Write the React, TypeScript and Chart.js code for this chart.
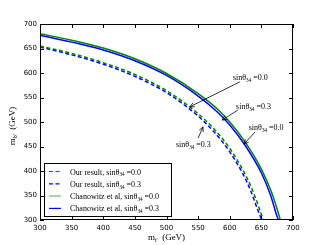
import React, { useEffect, useRef } from "react";
import { Chart, registerables } from "chart.js";

Chart.register(...registerables);

// Data
const gsX = [300, 350, 400, 450, 500, 550, 580, 600, 625, 650, 665, 675, 680];
const gsY = [680, 667, 651, 629, 599, 558, 527, 500, 458, 404, 360, 322, 300];
const bsX = [300, 350, 400, 450, 500, 550, 580, 600, 625, 650, 665, 674, 677];
const bsY = [677, 663, 647, 625, 595, 553, 521, 494, 451, 396, 349, 310, 300];
const gdX = [300, 350, 400, 450, 500, 550, 575, 600, 620, 635, 645, 653];
const gdY = [655, 640, 621, 597, 564, 517, 486, 446, 404, 364, 330, 300];
const bdX = [300, 350, 400, 450, 500, 550, 575, 600, 620, 633, 643, 650.5];
const bdY = [653, 637, 618, 593, 560, 512, 480, 439, 396, 360, 325, 300];

const xTicks = [300, 350, 400, 450, 500, 550, 600, 650, 700];
const yTicks = [300, 350, 400, 450, 500, 550, 600, 650, 700];

const legendLabels = ["Our result, sin\u03b8", "Our result, sin\u03b8", "Chanowitz et al, sin\u03b8", "Chanowitz et al, sin\u03b8"];
const legendValues = ["=0.0", "=0.3", "=0.0", "=0.3"];

// annotations: text anchor (data), arrow start (data), arrow head (data)
const annValues = ["=0.0", "=0.3", "=0.0", "=0.3"];
const annText = [[605, 586], [610, 527], [630, 484], [515, 449]];
const annFrom = [[616, 582], [613, 524.5], [640, 479.6], [550, 467]];
const annTo = [[537, 531], [588, 504], [622.5, 455], [557.7, 490]];

const GREEN = "#008000";
const BLUE = "#0000ff";
const SERIF2 = "'Liberation Serif', 'DejaVu Serif', serif";

function pts(xs: number[], ys: number[]) {
  return xs.map((x, i) => ({ x, y: ys[i] }));
}

function drawSin(ctx: CanvasRenderingContext2D, prefix: string, value: string, x: number, y: number, size: number) {
  ctx.textAlign = "left";
  ctx.textBaseline = "alphabetic";
  ctx.fillStyle = "#000";
  ctx.font = `${size}px ${SERIF2}`;
  ctx.fillText(prefix, x, y);
  let cx = x + ctx.measureText(prefix).width;
  ctx.font = `${size * 0.65}px ${SERIF2}`;
  ctx.fillText("34", cx, y + size * 0.22);
  cx += ctx.measureText("34").width + size * 0.25;
  ctx.font = `${size}px ${SERIF2}`;
  ctx.fillText(value, cx, y);
}

const overlay = {
  id: "overlay",
  afterDraw(chart: any) {
    const ctx: CanvasRenderingContext2D = chart.ctx;
    const { left, right, top, bottom } = chart.chartArea;
    const xs = chart.scales.x;
    const ys = chart.scales.y;
    ctx.save();
    // frame
    ctx.strokeStyle = "#000";
    ctx.lineWidth = 1;
    ctx.strokeRect(left + 0.5, top + 0.5, right - left - 1, bottom - top - 1);
    // ticks inside
    ctx.beginPath();
    xTicks.forEach((v) => {
      const p = Math.round(xs.getPixelForValue(v)) + 0.5;
      ctx.moveTo(p, bottom);
      ctx.lineTo(p, bottom - 4);
      ctx.moveTo(p, top);
      ctx.lineTo(p, top + 4);
    });
    yTicks.forEach((v) => {
      const p = Math.round(ys.getPixelForValue(v)) + 0.5;
      ctx.moveTo(left, p);
      ctx.lineTo(left + 4, p);
      ctx.moveTo(right, p);
      ctx.lineTo(right - 4, p);
    });
    ctx.stroke();

    // annotations
    for (let i = 0; i < annText.length; i++) {
      const tx = xs.getPixelForValue(annText[i][0]);
      const ty = ys.getPixelForValue(annText[i][1]);
      drawSin(ctx, "sin\u03b8", annValues[i], tx, ty, 8);
      const fx = xs.getPixelForValue(annFrom[i][0]);
      const fy = ys.getPixelForValue(annFrom[i][1]);
      const hx = xs.getPixelForValue(annTo[i][0]);
      const hy = ys.getPixelForValue(annTo[i][1]);
      ctx.strokeStyle = "#000";
      ctx.lineWidth = 0.8;
      ctx.beginPath();
      ctx.moveTo(fx, fy);
      ctx.lineTo(hx, hy);
      const ang = Math.atan2(hy - fy, hx - fx);
      const L = 5;
      ctx.moveTo(hx, hy);
      ctx.lineTo(hx - L * Math.cos(ang - 0.45), hy - L * Math.sin(ang - 0.45));
      ctx.moveTo(hx, hy);
      ctx.lineTo(hx - L * Math.cos(ang + 0.45), hy - L * Math.sin(ang + 0.45));
      ctx.stroke();
    }

    // legend
    const lx = left + 4;
    const ly = 163;
    const lw = 128;
    const lh = 54;
    ctx.fillStyle = "#fff";
    ctx.fillRect(lx, ly, lw, lh);
    ctx.strokeStyle = "#000";
    ctx.lineWidth = 1;
    ctx.strokeRect(lx + 0.5, ly + 0.5, lw - 1, lh - 1);
    const styles = [
      { c: GREEN, d: [4, 2.5], w: 1.2 },
      { c: BLUE, d: [4, 2.5], w: 1.2 },
      { c: "rgba(0,128,0,0.35)", d: [], w: 2 },
      { c: BLUE, d: [], w: 1.2 },
    ];
    for (let i = 0; i < 4; i++) {
      const cy = 171.5 + i * 12.3;
      ctx.strokeStyle = styles[i].c;
      ctx.lineWidth = styles[i].w;
      ctx.setLineDash(styles[i].d);
      ctx.beginPath();
      ctx.moveTo(49, cy);
      ctx.lineTo(61, cy);
      ctx.stroke();
      ctx.setLineDash([]);
      drawSin(ctx, legendLabels[i], legendValues[i], 70, cy + 3, 8);
    }

    // axis titles
    ctx.fillStyle = "#000";
    ctx.textBaseline = "alphabetic";
    const drawTitle = (sub: string, cx: number, cy: number) => {
      ctx.font = `9px ${SERIF2}`;
      const wm = ctx.measureText("m").width;
      ctx.font = `6px ${SERIF2}`;
      const ws = ctx.measureText(sub).width;
      ctx.font = `9px ${SERIF2}`;
      const wr = ctx.measureText("  (GeV)").width;
      const tot = wm + ws + wr;
      let x0 = cx - tot / 2;
      ctx.textAlign = "left";
      ctx.fillText("m", x0, cy);
      x0 += wm;
      ctx.font = `6px ${SERIF2}`;
      ctx.fillText(sub, x0, cy + 2);
      x0 += ws;
      ctx.font = `9px ${SERIF2}`;
      ctx.fillText("  (GeV)", x0, cy);
    };
    drawTitle("t'", (left + right) / 2, 240);
    ctx.save();
    ctx.translate(15, (top + bottom) / 2 + 4);
    ctx.rotate(-Math.PI / 2);
    drawTitle("b'", 0, 0);
    ctx.restore();
    ctx.restore();
  },
};

export default function App() {
  const ref = useRef<HTMLCanvasElement | null>(null);
  useEffect(() => {
    document.body.style.margin = "0";
    if (!ref.current) return;
    const tickFont = { family: "'DejaVu Sans', sans-serif", size: 7 };
    const chart = new Chart(ref.current, {
      type: "scatter",
      data: {
        datasets: [
          { data: pts(gdX, gdY), borderColor: GREEN, borderDash: [4, 2.5], borderWidth: 1.5 },
          { data: pts(bdX, bdY), borderColor: BLUE, borderDash: [4, 2.5], borderWidth: 1.5 },
          { data: pts(gsX, gsY), borderColor: GREEN, borderWidth: 1.5 },
          { data: pts(bsX, bsY), borderColor: BLUE, borderWidth: 1.5 },
        ].map((d) => ({ ...d, showLine: true, pointRadius: 0, fill: false, cubicInterpolationMode: "monotone" as const })),
      },
      options: {
        responsive: false,
        animation: false,
        devicePixelRatio: 1,
        layout: { padding: { top: 24, right: 32, left: 0, bottom: 0 } },
        plugins: { legend: { display: false }, tooltip: { enabled: false } },
        scales: {
          x: {
            type: "linear",
            min: 300,
            max: 700,
            ticks: { stepSize: 50, font: tickFont, color: "#000", padding: 4, maxRotation: 0, autoSkip: false },
            grid: { display: false, drawTicks: false },
            border: { display: false },
            afterFit: (s: any) => {
              s.height = 25;
            },
          },
          y: {
            type: "linear",
            min: 300,
            max: 700,
            ticks: { stepSize: 50, font: tickFont, color: "#000", padding: 3, autoSkip: false },
            grid: { display: false, drawTicks: false },
            border: { display: false },
            afterFit: (s: any) => {
              s.width = 40;
            },
          },
        },
      },
      plugins: [overlay],
    });
    return () => chart.destroy();
  }, []);
  return (
    <div style={{ position: "absolute", left: 0, top: 0, width: 325, height: 245, background: "#fff" }}>
      <canvas ref={ref} width={325} height={245} style={{ width: 325, height: 245 }} />
    </div>
  );
}
